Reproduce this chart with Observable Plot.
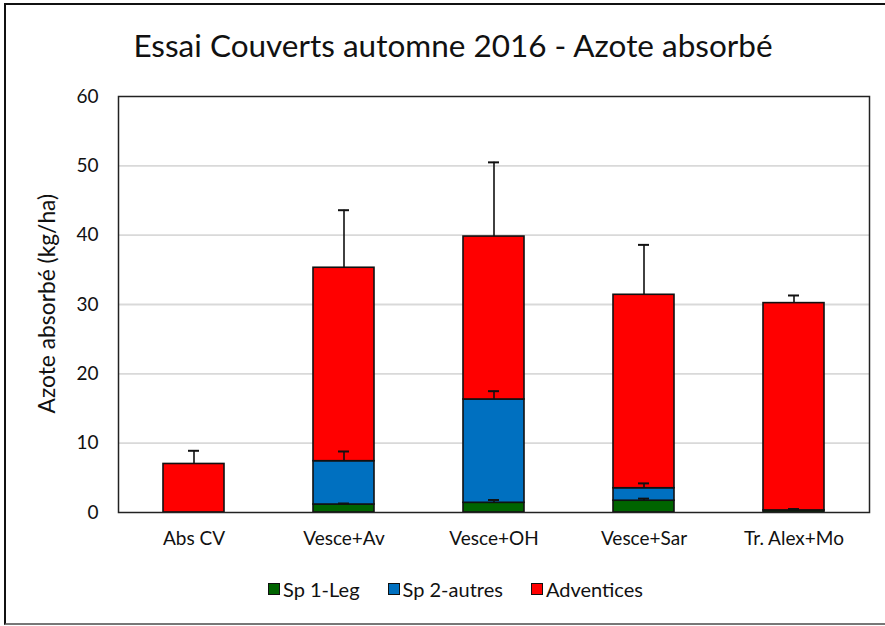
<!DOCTYPE html>
<html>
<head>
<meta charset="utf-8">
<script src="https://cdn.jsdelivr.net/npm/d3@7"></script>
<script src="https://cdn.jsdelivr.net/npm/@observablehq/plot@0.6"></script>
<style>
  body { margin: 0; background: #fff; font-family: Lato, "Open Sans", sans-serif; }
  #page { position: relative; width: 885px; height: 626px; overflow: hidden; background: #fff; }
  #frame { position: absolute; left: 4px; top: 3px; width: 890px; height: 622px; box-sizing: border-box;
           border-left: 2px solid #111; border-top: 2px solid #111; border-bottom: 2px solid #777; }
  #title { position: absolute; left: 0; width: 906px; top: 26px; text-align: center; font-size: 31.5px; color: #111; white-space: nowrap; }
  #chart { position: absolute; left: 0; top: 80px; }
  #ylabel { position: absolute; left: 0; top: 0; font-size: 20px; line-height: 1.2; color: #111; white-space: nowrap; transform: rotate(-90deg); }
  #legend { position: absolute; left: 0; width: 911px; top: 577px; display: flex; justify-content: center; gap: 28px; font-size: 20px; color: #111; }
  .item { display: flex; align-items: center; gap: 3px; }
  .sw { width: 12px; height: 12px; border: 1px solid #111; box-sizing: border-box; }
</style>
</head>
<body>
<div id="page">
  <div id="frame"></div>
  <div id="title">Essai Couverts automne 2016 - Azote absorbé</div>
  <div id="chart"></div>
  <div id="ylabel">Azote absorbé (kg/ha)</div>
  <div id="legend"></div>
</div>
<script>
const categories = ["Abs CV", "Vesce+Av", "Vesce+OH", "Vesce+Sar", "Tr. Alex+Mo"];
const seriesNames = ["Sp 1-Leg", "Sp 2-autres", "Adventices"];
const seriesColors = ["#006400", "#0070C0", "#FF0000"];
const sp1 = [0, 1.15, 1.4, 1.7, 0.3];
const sp2 = [0, 6.25, 14.9, 1.8, 0];
const adv = [7.0, 27.9, 23.5, 27.9, 29.9];
const sp1Err = [0, 0.15, 0.4, 0.3, 0.2];
const sp2Err = [0, 1.4, 1.2, 0.7, 0];
const advErr = [1.9, 8.3, 10.7, 7.2, 1.1];
const yTicks = [0, 10, 20, 30, 40, 50, 60];

const values = [sp1, sp2, adv];
const errs = [sp1Err, sp2Err, advErr];

const rows = [];
const errRows = [];
categories.forEach((c, i) => {
  let base = 0;
  seriesNames.forEach((s, k) => {
    const v = values[k][i];
    rows.push({cat: c, series: s, value: v});
    base += v;
    if (v > 0 && errs[k][i] > 0) errRows.push({cat: c, top: base, end: base + errs[k][i]});
  });
});

const chart = Plot.plot({
  width: 885,
  height: 480,
  marginLeft: 118,
  marginRight: 16,
  marginTop: 16,
  marginBottom: 48,
  style: {fontFamily: "Lato, 'Open Sans', sans-serif", fontSize: "19px", color: "#111", background: "transparent"},
  x: {domain: categories, paddingInner: 0.594, paddingOuter: 0.297, label: null, tickSize: 0, tickPadding: 19},
  y: {domain: [0, 60], ticks: yTicks, label: null, tickSize: 0, tickPadding: 20},
  color: {domain: seriesNames, range: seriesColors},
  marks: [
    Plot.gridY(yTicks.filter(d => d > 0 && d < 60), {stroke: "#d9d9d9", strokeOpacity: 1, strokeWidth: 1.8}),
    Plot.barY(rows, Plot.stackY({order: null}, {x: "cat", y: "value", fill: "series", stroke: "#111", strokeWidth: 1.6})),
    Plot.ruleX(errRows, {x: "cat", y1: "top", y2: "end", stroke: "#111", strokeWidth: 1.6}),
    Plot.tickY(errRows, {x: "cat", y: "end", stroke: "#111", strokeWidth: 2, insetLeft: 25, insetRight: 25}),
    Plot.frame({stroke: "#222", strokeWidth: 1.5})
  ]
});
document.getElementById("chart").appendChild(chart);

// y-axis title: size to the reference's length and centre it on the plot area
const yl = document.getElementById("ylabel");
const targetLen = 220;
const fs = 20 * targetLen / yl.offsetWidth;
yl.style.fontSize = fs.toFixed(2) + "px";
const w = yl.offsetWidth, h = yl.offsetHeight;
yl.style.left = (47 - w / 2) + "px";
yl.style.top = (303 - h / 2) + "px";

const legend = document.getElementById("legend");
seriesNames.forEach((s, k) => {
  const it = document.createElement("div");
  it.className = "item";
  const sw = document.createElement("div");
  sw.className = "sw";
  sw.style.background = seriesColors[k];
  const t = document.createElement("span");
  t.textContent = s;
  it.appendChild(sw); it.appendChild(t);
  legend.appendChild(it);
});
</script>
</body>
</html>
